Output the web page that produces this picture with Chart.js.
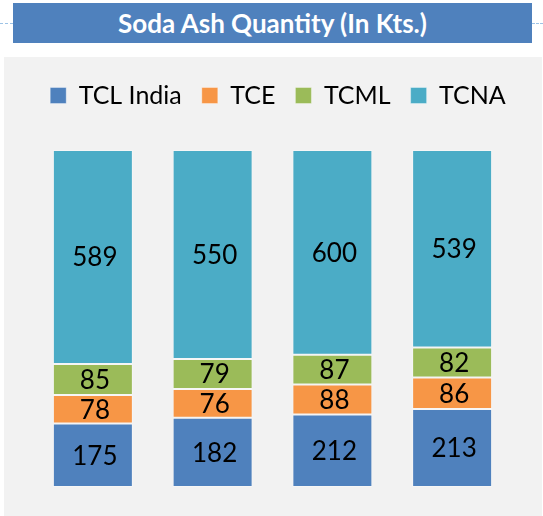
<!DOCTYPE html>
<html>
<head>
<meta charset="utf-8">
<script src="https://cdn.jsdelivr.net/npm/chart.js@4/dist/chart.umd.min.js"></script>
<style>
  html, body { margin: 0; padding: 0; background: #ffffff; }
  body { width: 543px; height: 516px; position: relative; overflow: hidden; }
  .dash { position: absolute; top: 23px; height: 0; border-top: 1px dashed #9dc3e6; }
  #title {
    position: absolute; left: 13px; top: 3px; width: 519px; height: 40px;
    background: #4f81bd; color: #fff; font-family: Lato, "Open Sans", sans-serif;
    font-weight: bold; font-size: 26px; line-height: 40px; text-align: center;
  }
  #panel { position: absolute; left: 4px; top: 57px; width: 538px; height: 459px; background: #f2f2f2; }
</style>
</head>
<body>
<div class="dash" style="left:0;width:13px"></div>
<div class="dash" style="left:532px;width:11px"></div>
<div id="title">Soda Ash Quantity (In Kts.)</div>
<div id="panel"><canvas id="chart" width="538" height="459"></canvas></div>
<script>
// Values (Kts.)
const categories = ['1', '2', '3', '4'];
const tclIndia = [175, 182, 212, 213];
const tce = [78, 76, 88, 86];
const tcml = [85, 79, 87, 82];
const tcna = [589, 550, 600, 539];

const seriesNames = ['TCL India', 'TCE', 'TCML', 'TCNA'];
const seriesColors = ['#4f81bd', '#f79646', '#9bbb59', '#4bacc6'];
const series = [tclIndia, tce, tcml, tcna];

// 100% stacked: each bar is scaled to its own total
const totals = categories.map((c, i) => series.reduce((s, arr) => s + arr[i], 0));

const datasets = series.map((arr, k) => ({
    label: seriesNames[k],
    data: arr.map((v, i) => v / totals[i] * 100),
    raw: arr,
    backgroundColor: seriesColors[k],
    borderColor: 'rgba(255, 255, 255, 0.35)',
    borderWidth: 1,
    borderSkipped: false,
    barPercentage: 0.668,
    categoryPercentage: 1
}));

// Draw the raw value in the middle of each segment
const valueLabels = {
    id: 'valueLabels',
    afterDatasetsDraw(chart) {
        const ctx = chart.ctx;
        ctx.save();
        ctx.font = '26px Lato, "Open Sans", sans-serif';
        ctx.fillStyle = '#000';
        ctx.textAlign = 'center';
        ctx.textBaseline = 'middle';
        chart.data.datasets.forEach((ds, di) => {
            chart.getDatasetMeta(di).data.forEach((bar, i) => {
                const mid = (bar.y + bar.base) / 2;
                ctx.fillText(ds.raw[i], bar.x + 2, mid + 1);
            });
        });
        ctx.restore();
    }
};

// legend may use the full canvas width, and leaves room above the bars
const legendFit = {
    id: 'legendFit',
    beforeInit(chart) {
        const fit = chart.legend.fit;
        chart.legend.fit = function() {
            this.maxWidth = chart.width;
            fit.bind(chart.legend)();
            this.height += 32;
        };
    },
    afterLayout(chart) {
        chart.legend.left = 10;
        chart.legend.right = chart.width;
        chart.legend.width = chart.width - 10;
    }
};

new Chart(document.getElementById('chart'), {
    type: 'bar',
    data: { labels: categories, datasets: datasets },
    plugins: [valueLabels, legendFit],
    options: {
        responsive: false,
        animation: false,
        layout: { padding: { left: 29, right: 30, top: 6, bottom: 29 } },
        plugins: {
            legend: {
                position: 'top',
                labels: {
                    boxWidth: 16,
                    boxHeight: 16,
                    padding: 20,
                    color: '#000',
                    font: { family: 'Lato, "Open Sans", sans-serif', size: 25 }
                }
            },
            tooltip: { enabled: false }
        },
        scales: {
            x: { stacked: true, display: false },
            y: { stacked: true, display: false, min: 0, max: 100 }
        }
    }
});
</script>
</body>
</html>
